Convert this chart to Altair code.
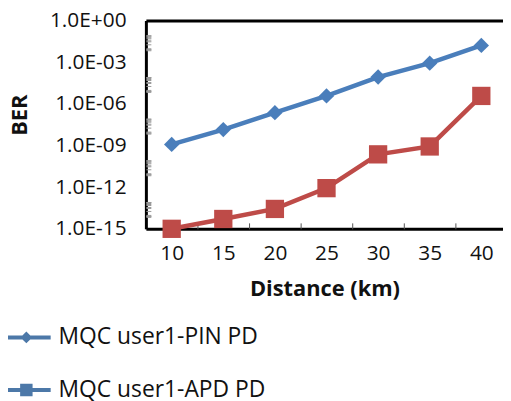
import altair as alt
import pandas as pd

distance = [10, 15, 20, 25, 30, 35, 40]
pin_ber = [1.2e-9, 1.4e-8, 2.3e-7, 3.7e-6, 8.5e-5, 8.5e-4, 1.6e-2]
apd_ber = [1.0e-15, 5.1e-15, 2.7e-14, 8.5e-13, 2.3e-10, 8.5e-10, 3.7e-6]
series_names = ["MQC user1-PIN PD", "MQC user1-APD PD"]
colors = ["#4A7EBB", "#BE4B48"]
major_ticks = [1, 1e-3, 1e-6, 1e-9, 1e-12, 1e-15]
minor_ticks = []
for m in [0, -3, -6, -9, -12]:
    minor_ticks += [k * 10.0 ** (m - 3) for k in (7, 8, 9)]
    minor_ticks += [k * 10.0 ** (m - 2) for k in range(1, 10)]
x_between = [12.5, 17.5, 22.5, 27.5, 32.5, 37.5]

rows = []
for d, p, a in zip(distance, pin_ber, apd_ber):
    rows.append({"dist": d, "ber": p, "series": series_names[0]})
    rows.append({"dist": d, "ber": a, "series": series_names[1]})
df = pd.DataFrame(rows)

FONT = "Open Sans"
FS = 21
xscale = alt.Scale(domain=[7.5, 42.1], nice=False, zero=False)
yscale = alt.Scale(type="log", domain=[1e-15, 1], nice=False)
cscale = alt.Scale(domain=series_names, range=colors)

label_expr = ("'1.0E' + (round(log(datum.value)/LN10) >= 0 ? '+' : '-') + "
              "(abs(round(log(datum.value)/LN10)) < 10 ? '0' : '') + "
              "abs(round(log(datum.value)/LN10))")

x_main = alt.X("dist:Q", scale=xscale, axis=alt.Axis(
    orient="bottom", values=distance, title="Distance (km)", ticks=False,
    grid=False, domainColor="black", domainWidth=3, labelFont=FONT,
    labelFontSize=FS, labelColor="#111", labelPadding=14, titleFont=FONT,
    titleFontSize=22, titleFontWeight="bold", titleColor="#111",
    titlePadding=15))
y_main = alt.Y("ber:Q", scale=yscale, axis=alt.Axis(
    orient="left", values=major_ticks, labelExpr=label_expr, title="BER",
    ticks=False, grid=False, domainColor="black", domainWidth=3,
    labelFont=FONT, labelFontSize=FS, labelColor="#111", labelPadding=20,
    titleFont=FONT, titleFontSize=22, titleFontWeight="bold",
    titleColor="#111", titlePadding=18, titleY=95))

lines = alt.Chart(df).mark_line(strokeWidth=4.5).encode(
    x=x_main, y=y_main,
    color=alt.Color("series:N", scale=cscale, legend=None),
    detail="series:N",
)

pts = alt.Chart(df).mark_point(filled=True, opacity=1).encode(
    x=alt.X("dist:Q", scale=xscale, axis=alt.Axis(
        orient="bottom", values=x_between, labels=False, title=None,
        domain=False, grid=False, tickSize=6, tickColor="#555", tickWidth=1,
        offset=-6)),
    y=alt.Y("ber:Q", scale=yscale, axis=alt.Axis(
        orient="left", values=minor_ticks, labels=False, title=None,
        domain=False, grid=False, tickSize=5, tickColor="#999", tickWidth=1,
        offset=-5)),
    color=alt.Color("series:N", scale=cscale, legend=None),
    shape=alt.Shape("series:N", scale=alt.Scale(domain=series_names,
                    range=["diamond", "square"]), legend=None),
    size=alt.Size("series:N", scale=alt.Scale(domain=series_names,
                  range=[240, 340]), legend=None),
)

color_signal = (f"indexof({series_names!r}, datum.value) == 0 ? "
                f"'{colors[0]}' : '{colors[1]}'")
legend_paths = [
    "M-1.72,-0.14L1.72,-0.14L1.72,0.14L-1.72,0.14Z"
    "M-0.42,0L0,-0.42L0.42,0L0,0.42Z",
    "M-1.72,-0.14L1.72,-0.14L1.72,0.14L-1.72,0.14Z"
    "M-0.44,-0.44L0.44,-0.44L0.44,0.44L-0.44,0.44Z",
]
leg_def = alt.Legend(
    title=None, orient="none", legendX=-135, legendY=305,
    symbolSize=812, symbolStrokeWidth=0, labelFont=FONT,
    labelFontSize=23, labelColor="#111", labelOffset=18, labelLimit=0,
    rowPadding=26, symbolOpacity=1,
    symbolFillColor=alt.ExprRef(color_signal),
    symbolStrokeColor=alt.ExprRef(color_signal))
leg = alt.Chart(df).transform_filter("false").mark_point(filled=True).encode(
    x=alt.X("dist:Q", scale=xscale, axis=alt.Axis(
        orient="top", labels=False, ticks=False, title=None, grid=False,
        domainColor="black", domainWidth=3)),
    y=alt.Y("ber:Q", scale=yscale, axis=None),
    shape=alt.Shape("series:N", scale=alt.Scale(domain=series_names,
                    range=legend_paths), legend=leg_def),
)

chart = alt.layer(lines, pts, leg).resolve_axis(
    x="independent", y="independent"
).resolve_scale(
    shape="independent", size="independent"
).properties(
    width=360, height=210, padding={"left": 0, "top": 0, "right": 0, "bottom": 0}
).configure_view(stroke=None)

chart.save("out.html", embed_options={"renderer": "svg", "actions": False})
